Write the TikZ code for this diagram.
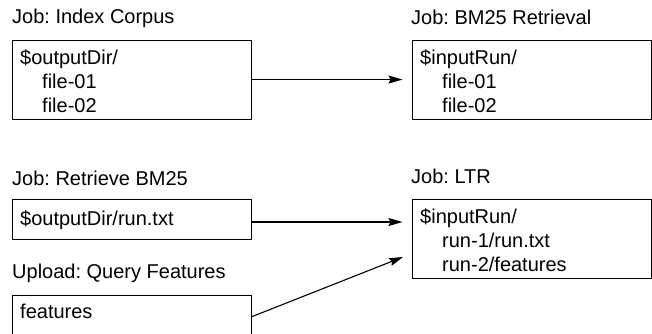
\documentclass[tikz,border=0pt]{standalone}
\usepackage{fontspec}
\setmainfont{Liberation Sans}
\frenchspacing
\usetikzlibrary{arrows.meta,calc}
\begin{document}
\begin{tikzpicture}[x=1pt,y=-1pt,
  box/.style={draw,line width=1.1pt,rectangle,inner sep=0pt,minimum width=239pt,anchor=north west},
  txt/.style={anchor=base west,inner sep=0pt,font=\fontsize{20}{24}\selectfont},
  conn/.style={line width=1.1pt,-{Stealth[length=14pt,width=8pt,inset=2pt]},shorten >=9pt}]
\useasboundingbox (0,0) rectangle (652,333);
\clip (0,0) rectangle (652,333);
% titles
\node[txt] (t1) at (12,23) {Job: Index Corpus};
\node[txt] (t2) at (411,24) {Job: BM25 Retrieval};
\node[txt] (t3) at (12,185) {Job: Retrieve BM25};
\node[txt] (t4) at (411,183) {Job: LTR};
\node[txt] (t5) at (12,278) {Upload: Query Features};
% boxes
\node[box,minimum height=79pt] (b1) at (12,39.5) {};
\node[box,minimum height=79pt] (b2) at (411.5,40) {};
\node[box,minimum height=39.5pt] (b3) at (12,199) {};
\node[box,minimum height=79pt] (b4) at (411.5,199) {};
\node[box,minimum height=45pt] (b5) at (12,295) {};
% box texts
\node[txt] (l11) at (20,64) {\$outputDir/};
\node[txt] (l12) at (42,88) {file-01};
\node[txt] (l13) at (42,112) {file-02};
\node[txt] (l21) at (420,64) {\$inputRun/};
\node[txt] (l22) at (442,88) {file-01};
\node[txt] (l23) at (442,112) {file-02};
\node[txt] (l31) at (20,225) {\$outputDir/run.txt};
\node[txt] (l41) at (420,223) {\$inputRun/};
\node[txt] (l42) at (442,247) {run-1/run.txt};
\node[txt] (l43) at (442,271) {run-2/features};
\node[txt] (l51) at (20,318) {features};
% connectors
\coordinate (s3) at ($(b3.north east)+(0,23)$);
\coordinate (e3) at ($(b4.north west)+(0,23)$);
\coordinate (s5) at ($(b5.north west)+(239,22)$);
\coordinate (e5) at ($(b4.south west)+(0,-25.5)$);
\draw[conn] (b1.east) -- (b2.west |- b1.east);
\draw[conn] (s3) -- (e3);
\draw[conn] (s5) -- (e5);
\end{tikzpicture}
\end{document}
